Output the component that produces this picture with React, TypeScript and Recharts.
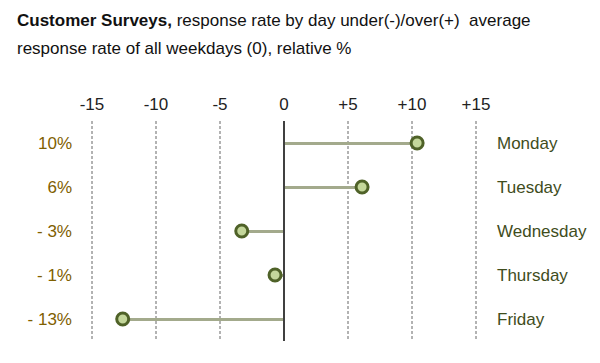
import React from 'react';
import { ComposedChart, Bar, Line, XAxis, YAxis, CartesianGrid, ReferenceLine } from 'recharts';

const days = ['Monday', 'Tuesday', 'Wednesday', 'Thursday', 'Friday'];
const values = [10.4, 6.1, -3.3, -0.7, -12.6];
const pctLabels = ['10%', '6%', '- 3%', '- 1%', '- 13%'];
const xTicks = [-15, -10, -5, 0, 5, 10, 15];

const data = days.map((d, i) => ({ day: d, value: values[i], pct: pctLabels[i] }));

const FONT = '"Liberation Sans", Arial, sans-serif';

export default function App() {
  return (
    <div style={{ position: 'relative', width: 600, height: 363, background: '#fff', fontFamily: FONT }}>
      <style>{`body{margin:0;}`}</style>
      <div style={{ position: 'absolute', left: 17, top: 7, fontSize: 17, lineHeight: '28px', color: '#111', whiteSpace: 'pre' }}>
        <div><b>Customer Surveys,</b> response rate by day under(-)/over(+)  average</div>
        <div>response rate of all weekdays (0), relative %</div>
      </div>
      <div style={{ position: 'absolute', left: 0, top: 0 }}>
        <ComposedChart
          width={600}
          height={363}
          data={data}
          layout="vertical"
          margin={{ top: 91, right: 14, bottom: 22, left: 12 }}
        >
          <CartesianGrid horizontal={false} vertical={true} stroke="#666" strokeDasharray="3 2" />
          <XAxis
            type="number"
            orientation="top"
            domain={[-15, 15]}
            ticks={xTicks}
            height={30}
            axisLine={false}
            tickLine={false}
            tickSize={0}
            tickMargin={11}
            interval={0}
            tick={{ fill: '#222', fontSize: 17, fontFamily: FONT }}
            tickFormatter={(v: number) => (v > 0 ? '+' + v : String(v))}
          />
          <YAxis
            yAxisId="left"
            type="category"
            dataKey="pct"
            orientation="left"
            width={80}
            axisLine={false}
            tickLine={false}
            tickSize={0}
            tickMargin={20}
            tick={{ fill: '#7f6000', fontSize: 17, fontFamily: FONT }}
          />
          <YAxis
            yAxisId="right"
            type="category"
            dataKey="day"
            orientation="right"
            width={110}
            axisLine={false}
            tickLine={false}
            tickSize={0}
            tickMargin={21}
            tick={{ fill: '#3f4d1c', fontSize: 17, fontFamily: FONT, textAnchor: 'start' }}
          />
          <ReferenceLine yAxisId="left" x={0} stroke="#404040" strokeWidth={2} />
          <Bar yAxisId="left" dataKey="value" barSize={3} fill="#a3aa8c" isAnimationActive={false} />
          <Line
            yAxisId="left"
            dataKey="value"
            stroke="none"
            dot={{ r: 6, fill: '#c4d79b', stroke: '#4f6228', strokeWidth: 3 }}
            activeDot={false}
            isAnimationActive={false}
          />
        </ComposedChart>
      </div>
    </div>
  );
}
